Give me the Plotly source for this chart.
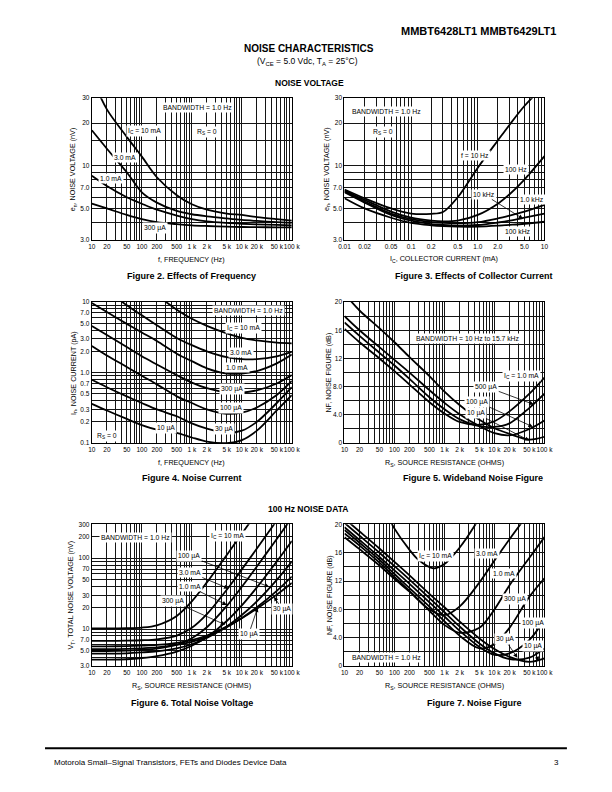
import math
import plotly.graph_objects as go

FONT = "Liberation Sans, Arial, Helvetica, sans-serif"
W, H = 612, 792

# ---------------- data ----------------
# Figure 2: noise voltage vs frequency
fig2_freq = [10, 20, 50, 100, 200, 500, 1000, 2000, 5000, 10000, 20000, 50000, 100000]
fig2_en_10mA = [42, 25, 16, 11.6, 8.3, 6.2, 5.35, 4.9, 4.6, 4.5, 4.35, 4.2, 4.1]
fig2_en_3mA = [17.8, 13.2, 9.0, 6.5, 5.5, 4.8, 4.55, 4.4, 4.25, 4.15, 4.08, 4.0, 3.95]
fig2_en_1mA = [8.5, 7.2, 6.0, 5.4, 4.9, 4.45, 4.2, 4.05, 3.95, 3.9, 3.86, 3.83, 3.8]
fig2_en_300uA = [5.4, 5.0, 4.5, 4.2, 4.0, 3.87, 3.8, 3.76, 3.72, 3.7, 3.69, 3.68, 3.68]

# Figure 3: noise voltage vs collector current
fig3_ic = [0.01, 0.02, 0.05, 0.1, 0.2, 0.3, 0.5, 1.0, 2.0, 3.0, 5.0, 10]
fig3_en_10Hz = [6.8, 5.9, 5.0, 4.6, 4.58, 4.72, 6.0, 9.7, 15.1, 19.5, 26.4, 37]
fig3_en_100Hz = [6.7, 5.75, 4.75, 4.3, 4.1, 4.05, 4.1, 4.5, 5.4, 6.3, 8.0, 11.7]
fig3_en_1kHz = [6.6, 5.6, 4.6, 4.2, 4.0, 3.95, 3.93, 4.0, 4.25, 4.45, 4.75, 5.3]
fig3_en_10kHz = [6.5, 5.5, 4.5, 4.1, 3.88, 3.82, 3.78, 3.82, 3.98, 4.1, 4.3, 4.6]
fig3_en_100kHz = [5.9, 5.0, 4.3, 3.95, 3.8, 3.75, 3.72, 3.72, 3.78, 3.83, 3.9, 4.03]

# Figure 4: noise current vs frequency
fig4_freq = [10, 20, 50, 100, 200, 500, 1000, 2000, 5000, 10000, 20000, 50000, 100000]
fig4_in_10mA = [55, 40, 25, 18, 12.5, 7.8, 5.8, 4.6, 3.6, 3.1, 2.85, 2.65, 2.6]
fig4_in_3mA = [20, 14.5, 9.0, 6.5, 4.7, 3.1, 2.45, 2.0, 1.65, 1.55, 1.55, 1.7, 1.97]
fig4_in_1mA = [9.7, 7.2, 4.9, 3.7, 2.8, 1.85, 1.45, 1.15, 0.97, 0.97, 1.05, 1.35, 1.8]
fig4_in_300uA = [4.56, 3.4, 2.3, 1.7, 1.3, 0.92, 0.72, 0.6, 0.52, 0.52, 0.56, 0.7, 0.92]
fig4_in_100uA = [2.39, 1.75, 1.2, 0.9, 0.68, 0.46, 0.37, 0.3, 0.26, 0.27, 0.32, 0.48, 0.76]
fig4_in_30uA = [0.79, 0.62, 0.46, 0.37, 0.3, 0.24, 0.19, 0.16, 0.14, 0.15, 0.2, 0.37, 0.62]
fig4_in_10uA = [0.36, 0.29, 0.22, 0.18, 0.155, 0.14, 0.12, 0.105, 0.1, 0.11, 0.15, 0.29, 0.48]

# Figure 5: wideband noise figure vs source resistance
fig5_rs = [10, 20, 50, 100, 200, 500, 1000, 2000, 5000, 10000, 20000, 50000, 100000]
fig5_nf_1mA = [16.2, 14.3, 12.0, 10.2, 8.3, 5.8, 4.2, 3.0, 2.6, 3.1, 4.5, 7.0, 9.3]
fig5_nf_500uA = [17.1, 15.2, 12.8, 11.0, 9.1, 6.5, 4.8, 3.4, 2.4, 2.3, 2.8, 5.0, 7.0]
fig5_nf_100uA = [18.0, 16.0, 13.6, 11.8, 10.0, 7.5, 5.7, 4.1, 2.4, 1.4, 1.1, 2.0, 3.2]
fig5_nf_10uA = [21.2, 18.8, 16.3, 14.3, 12.2, 9.5, 7.3, 5.4, 3.3, 2.1, 1.3, 0.5, 0.9]

# Figure 6: total noise voltage vs source resistance (100 Hz)
fig6_rs = [10, 20, 50, 100, 200, 500, 1000, 2000, 5000, 10000, 20000, 50000, 100000]
fig6_vt_10mA = [10.2, 10.2, 10.3, 10.5, 11.3, 15.3, 24.6, 45.5, 111, 221, 441]
fig6_vt_3mA = [6.8, 6.8, 6.85, 6.95, 7.17, 8.1, 10.4, 16.2, 35.9, 69.5, 137, 340]
fig6_vt_1mA = [4.9, 4.9, 4.95, 5.1, 5.3, 6.0, 7.4, 10.6, 21.2, 39.5, 76.3, 187, 372]
fig6_vt_300uA = [3.7, 3.7, 3.75, 3.9, 4.15, 4.8, 5.8, 7.7, 13.0, 21.6, 38.7, 89.8, 175]
fig6_vt_100uA = [4.5, 4.5, 4.55, 4.68, 4.86, 5.35, 6.1, 7.5, 10.9, 15.8, 24.6, 49.4, 89.8]
fig6_vt_30uA = [5.2, 5.2, 5.25, 5.35, 5.5, 5.96, 6.6, 7.8, 10.6, 14.3, 20.3, 34.6, 55.1]
fig6_vt_10uA = [5.7, 5.7, 5.75, 5.84, 5.98, 6.4, 7.0, 8.1, 10.8, 14.2, 19.4, 30.6, 44.8]

# Figure 7: noise figure vs source resistance (100 Hz)
fig7_rs = [10, 20, 50, 100, 200, 500, 1000, 2000, 5000, 10000, 20000, 50000, 100000]
fig7_rs_3mA = [10, 20, 50, 100, 200, 500, 1000, 2000, 5000, 10000, 20000, 40000]
fig7_rs_10mA = [70, 100, 200, 300, 600, 1000, 2000, 4000, 5000]
fig7_nf_10mA = [21.5, 19.4, 16.4, 15.0, 13.8, 14.4, 16.7, 19.8, 21.0]
fig7_nf_3mA = [18.2, 16.5, 14.2, 12.3, 10.5, 8.0, 7.2, 8.4, 11.8, 14.9, 17.9, 20.8]
fig7_nf_1mA = [18.7, 17.0, 14.6, 12.6, 10.6, 7.8, 5.8, 4.7, 5.4, 8.0, 11.4, 15.3, 18.2]
fig7_nf_300uA = [19.2, 17.4, 15.0, 13.0, 11.0, 8.4, 6.3, 4.3, 2.5, 3.1, 5.4, 9.8, 12.4]
fig7_nf_100uA = [19.6, 17.8, 15.4, 13.5, 11.6, 9.0, 7.0, 5.0, 2.7, 1.6, 1.8, 3.7, 6.6]
fig7_nf_30uA = [20.2, 18.4, 16.0, 14.1, 12.2, 9.6, 7.6, 5.6, 3.2, 1.8, 1.0, 1.2, 2.5]
fig7_nf_10uA = [20.8, 19.0, 16.6, 14.7, 12.8, 10.2, 8.3, 6.3, 3.9, 2.4, 1.3, 0.6, 1.1]

# tick labels
freq_tick_vals = [10, 20, 50, 100, 200, 500, 1000, 2000, 5000, 10000, 20000, 50000, 100000]
freq_tick_text = ["10", "20", "50", "100", "200", "500", "1 k", "2 k", "5 k", "10 k", "20 k", "50 k", "100 k"]
ic_tick_vals = [0.01, 0.02, 0.05, 0.1, 0.2, 0.5, 1, 2, 5, 10]
ic_tick_text = ["0.01", "0.02", "0.05", "0.1", "0.2", "0.5", "1.0", "2.0", "5.0", "10"]
en_tick_vals = [3, 5, 7, 10, 20, 30]
en_tick_text = ["3.0", "5.0", "7.0", "10", "20", "30"]
en_grid_vals = [3, 4, 5, 6, 7, 8, 9, 10, 15, 20, 30]
in_tick_vals = [0.1, 0.2, 0.3, 0.5, 0.7, 1, 2, 3, 5, 7, 10]
in_tick_text = ["0.1", "0.2", "0.3", "0.5", "0.7", "1.0", "2.0", "3.0", "5.0", "7.0", "10"]
vt_tick_vals = [3, 5, 7, 10, 20, 30, 50, 70, 100, 200, 300]
vt_tick_text = ["3.0", "5.0", "7.0", "10", "20", "30", "50", "70", "100", "200", "300"]
nf_tick_vals = [0, 4, 8, 12, 16, 20]
nf_tick_text = ["0", "4.0", "8.0", "12", "16", "20"]
nf_grid_vals = [0, 2, 4, 6, 8, 10, 12, 14, 16, 18, 20]


# ---------------- helpers ----------------
def log_grid(lo, hi):
    vals = []
    e = math.floor(math.log10(lo) + 1e-9)
    while e < 12:
        for m in range(1, 10):
            v = round(m * 10 ** e, 10)
            if v > hi * (1 + 1e-9):
                return vals
            if v >= lo * (1 - 1e-9):
                vals.append(v)
        e += 1
    return vals


def px_x(px):
    return px / W


def px_y(py):
    return 1 - py / H


GRID_COLOR = "#141414"


def axis(domain, anchor, typ, rng, grid, lab_vals, lab_text):
    return dict(domain=domain, anchor=anchor, type=typ, range=rng,
                tickmode="array", tickvals=lab_vals, ticktext=lab_text,
                tickangle=0,
                showgrid=True, gridcolor=GRID_COLOR, gridwidth=0.9,
                minor=dict(tickmode="array", tickvals=grid, showgrid=True,
                           gridcolor=GRID_COLOR, gridwidth=0.9, ticks=""),
                showline=True, linecolor="black", linewidth=1.3, mirror=True,
                ticks="", zeroline=False, fixedrange=True,
                tickfont=dict(family=FONT, size=6.5, color="black"))


LEFT = [88 / W, 293 / W]
RIGHT = [347 / W, 552 / W]
ROW1 = [px_y(238), px_y(95)]
ROW2 = [px_y(443), px_y(300.7)]
ROW3 = [px_y(668), px_y(525)]

L3 = math.log10(3)

fig = go.Figure()

line_style = dict(color="black", width=1.8, shape="spline", smoothing=0.9)


def add(xs, ys, ax):
    fig.add_trace(go.Scatter(x=xs, y=ys, mode="lines", line=line_style,
                             xaxis="x" + ax, yaxis="y" + ax, hoverinfo="skip",
                             showlegend=False))


for ys in [fig2_en_10mA, fig2_en_3mA, fig2_en_1mA, fig2_en_300uA]:
    add(fig2_freq, ys, "")
for ys in [fig3_en_10Hz, fig3_en_100Hz, fig3_en_1kHz, fig3_en_10kHz, fig3_en_100kHz]:
    add(fig3_ic, ys, "2")
for ys in [fig4_in_10mA, fig4_in_3mA, fig4_in_1mA, fig4_in_300uA, fig4_in_100uA, fig4_in_30uA, fig4_in_10uA]:
    add(fig4_freq, ys, "3")
for ys in [fig5_nf_1mA, fig5_nf_500uA, fig5_nf_100uA, fig5_nf_10uA]:
    add(fig5_rs, ys, "4")
for ys in [fig6_vt_10mA, fig6_vt_3mA, fig6_vt_1mA, fig6_vt_300uA, fig6_vt_100uA, fig6_vt_30uA, fig6_vt_10uA]:
    add(fig6_rs[:len(ys)], ys, "5")
add(fig7_rs_10mA, fig7_nf_10mA, "6")
add(fig7_rs_3mA, fig7_nf_3mA, "6")
for ys in [fig7_nf_1mA, fig7_nf_300uA, fig7_nf_100uA, fig7_nf_30uA, fig7_nf_10uA]:
    add(fig7_rs, ys, "6")

fgrid = log_grid(10, 100000)
layout_axes = dict(
    xaxis=axis(LEFT, "y", "log", [1, 5], fgrid, freq_tick_vals, freq_tick_text),
    yaxis=axis(ROW1, "x", "log", [L3, L3 + 1], en_grid_vals, en_tick_vals, en_tick_text),
    xaxis2=axis(RIGHT, "y2", "log", [-2, 1], log_grid(0.01, 10), ic_tick_vals, ic_tick_text),
    yaxis2=axis(ROW1, "x2", "log", [L3, L3 + 1], en_grid_vals, en_tick_vals, en_tick_text),
    xaxis3=axis(LEFT, "y3", "log", [1, 5], fgrid, freq_tick_vals, freq_tick_text),
    yaxis3=axis(ROW2, "x3", "log", [-1, 1], log_grid(0.1, 10), in_tick_vals, in_tick_text),
    xaxis4=axis(RIGHT, "y4", "log", [1, 5], fgrid, freq_tick_vals, freq_tick_text),
    yaxis4=axis(ROW2, "x4", "linear", [0, 20], nf_grid_vals, nf_tick_vals, nf_tick_text),
    xaxis5=axis(LEFT, "y5", "log", [1, 5], fgrid, freq_tick_vals, freq_tick_text),
    yaxis5=axis(ROW3, "x5", "log", [L3, L3 + 2], log_grid(3, 300), vt_tick_vals, vt_tick_text),
    xaxis6=axis(RIGHT, "y6", "log", [1, 5], fgrid, freq_tick_vals, freq_tick_text),
    yaxis6=axis(ROW3, "x6", "linear", [0, 20], nf_grid_vals, nf_tick_vals, nf_tick_text),
)

ann = []


def text(t, px, py, size=7, bold=False, bg=None, angle=0, xanchor="center"):
    d = dict(text=("<b>%s</b>" % t) if bold else t, x=px_x(px), y=px_y(py),
             xref="paper", yref="paper", showarrow=False, textangle=angle,
             xanchor=xanchor, yanchor="middle",
             font=dict(family=FONT, size=size, color="black"))
    if bg:
        d.update(bgcolor=bg, borderpad=1)
    ann.append(d)


def lab(t, px, py):
    text(t, px, py, size=6.8, bg="white")


def arr(t, px, py, hx, hy):
    ann.append(dict(text=t, x=px_x(hx), y=px_y(hy), xref="paper", yref="paper",
                    ax=px - hx, ay=py - hy, showarrow=True, arrowhead=2,
                    arrowsize=1.1, arrowwidth=0.8, arrowcolor="black",
                    bgcolor="white", borderpad=1,
                    font=dict(family=FONT, size=6.8, color="black")))


# page headings
text("MMBT6428LT1 MMBT6429LT1", 566, 27, size=11, bold=True, xanchor="right")
text("NOISE CHARACTERISTICS", 311, 45, size=10, bold=True)
text("(V<sub>CE</sub> = 5.0 Vdc, T<sub>A</sub> = 25°C)", 309, 58.5, size=8.5)
text("NOISE VOLTAGE", 311.5, 79.5, size=8.5, bold=True)
text("100 Hz NOISE DATA", 310, 509.5, size=8.5, bold=True)

# captions
text("Figure 2. Effects of Frequency", 190.5, 274.5, size=9, bold=True)
text("Figure 3. Effects of Collector Current", 480, 274.5, size=9, bold=True)
text("Figure 4. Noise Current", 190.5, 478.5, size=9, bold=True)
text("Figure 5. Wideband Noise Figure", 479, 478.5, size=9, bold=True)
text("Figure 6. Total Noise Voltage", 190.5, 705, size=9, bold=True)
text("Figure 7. Noise Figure", 480, 705, size=9, bold=True)

# axis titles
text("f, FREQUENCY (Hz)", 190.5, 257.5, size=7.2)
text("I<sub>C</sub>, COLLECTOR CURRENT (mA)", 449.5, 257.5, size=7.2)
text("f, FREQUENCY (Hz)", 190.5, 463, size=7.2)
text("R<sub>S</sub>, SOURCE RESISTANCE (OHMS)", 449.5, 463, size=7.2)
text("R<sub>S</sub>, SOURCE RESISTANCE (OHMS)", 190.5, 688.5, size=7.2)
text("R<sub>S</sub>, SOURCE RESISTANCE (OHMS)", 449.5, 688.5, size=7.2)
text("e<sub>n</sub>, NOISE VOLTAGE (nV)", 69, 166.5, size=7.2, angle=-90)
text("e<sub>n</sub>, NOISE VOLTAGE (nV)", 329, 166.5, size=7.2, angle=-90)
text("I<sub>n</sub>, NOISE CURRENT (pA)", 69, 372, size=7.2, angle=-90)
text("NF, NOISE FIGURE (dB)", 331, 372, size=7.2, angle=-90)
text("V<sub>T</sub>, TOTAL NOISE VOLTAGE (nV)", 67, 596.5, size=7.2, angle=-90)
text("NF, NOISE FIGURE (dB)", 331, 596.5, size=7.2, angle=-90)

# Figure 2 labels
lab("BANDWIDTH = 1.0 Hz", 196.5, 104.3)
lab("I<sub>C</sub> = 10 mA", 141.5, 128)
lab("R<sub>S</sub> = 0", 206, 129.3)
lab("3.0 mA", 122.5, 155)
lab("1.0 mA", 108, 176)
lab("300 µA", 152.5, 226)

# Figure 3 labels
lab("BANDWIDTH = 1.0 Hz", 390.3, 108.3)
lab("R<sub>S</sub> = 0", 386.7, 129)
lab("f = 10 Hz", 481, 153.3)
lab("100 Hz", 523.3, 166.7)
arr("10 kHz", 490.8, 192.3, 530, 216.7)
lab("1.0 kHz", 539.5, 197.7)
lab("100 kHz", 525.3, 229.3)

# Figure 4 labels
lab("BANDWIDTH = 1.0 Hz", 248.5, 309)
lab("I<sub>C</sub> = 10 mA", 243.5, 327)
lab("3.0 mA", 241, 351.5)
lab("1.0 mA", 236.5, 366.3)
lab("300 µA", 231.5, 388)
lab("100 µA", 230.5, 408)
lab("30 µA", 223.5, 428.5)
lab("10 µA", 164, 427.7)
lab("R<sub>S</sub> = 0", 104, 435.7)

# Figure 5 labels
lab("BANDWIDTH = 10 Hz to 15.7 kHz", 473.5, 337.3)
lab("I<sub>C</sub> = 1.0 mA", 528.5, 375.3)
arr("500 µA", 493.5, 386.3, 541, 404)
arr("100 µA", 484.3, 401.3, 540, 426.5)
arr("10 µA", 482.7, 413, 536.5, 440.5)

# Figure 6 labels
lab("BANDWIDTH = 1.0 Hz", 133, 538)
lab("I<sub>C</sub> = 10 mA", 227, 536.3)
arr("100 µA", 190, 557.3, 269.7, 588)
arr("3.0 mA", 190, 573.7, 228, 589.7)
arr("1.0 mA", 189.5, 588, 226.3, 606.3)
arr("300 µA", 172.7, 603, 224.7, 626.3)
arr("10 µA", 249, 635.7, 258, 609)
arr("30 µA", 283, 610.7, 274.7, 598)

# Figure 7 labels
lab("I<sub>C</sub> = 10 mA", 440, 557)
lab("3.0 mA", 493.3, 554.3)
lab("1.0 mA", 510, 575)
lab("300 µA", 522, 600)
lab("100 µA", 540.5, 625)
arr("30 µA", 511.5, 641, 524.3, 659.7)
arr("10 µA", 540, 648, 546, 663)
lab("BANDWIDTH = 1.0 Hz", 390.5, 659)

# footer
text("Motorola Small–Signal Transistors, FETs and Diodes Device Data", 47, 765, size=8, xanchor="left")
text("3", 569, 765, size=8, xanchor="right")

fig.update_layout(
    width=W, height=H,
    margin=dict(l=0, r=0, t=0, b=0),
    paper_bgcolor="white", plot_bgcolor="white",
    showlegend=False,
    font=dict(family=FONT, size=7, color="black"),
    annotations=ann,
    shapes=[dict(type="line", xref="paper", yref="paper",
                 x0=px_x(40), x1=px_x(575), y0=px_y(751), y1=px_y(751),
                 line=dict(color="black", width=2))],
    **layout_axes,
)

fig.write_html("out.html", config={"displayModeBar": False},
               post_script="document.body.style.margin='0';document.body.style.overflow='hidden';")
